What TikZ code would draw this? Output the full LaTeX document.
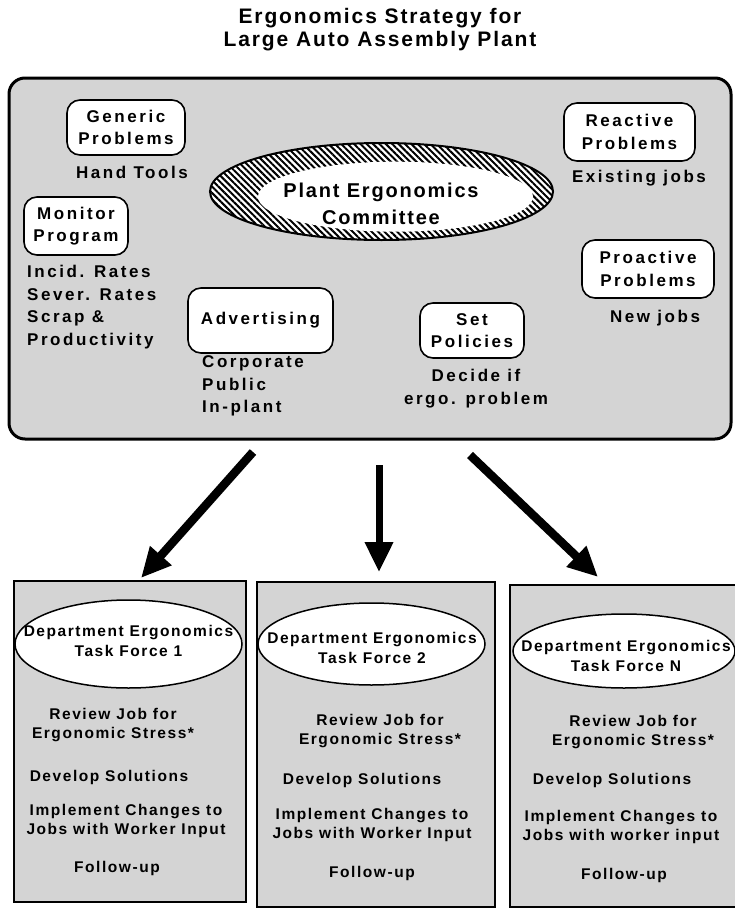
\documentclass[tikz,border=0pt]{standalone}
\usepackage{fontspec}
\setmainfont{Liberation Sans}
\newfontfamily\fbody[LetterSpace=15]{Liberation Sans}
\newfontfamily\fbig[LetterSpace=9]{Liberation Sans}
\newfontfamily\fsmall[LetterSpace=10]{Liberation Sans}
\usetikzlibrary{arrows.meta,patterns.meta}
\definecolor{paper}{gray}{0.83}
\newcommand\bodyfnt{\fbody\bfseries\fontsize{17}{22.7}\selectfont}
\newcommand\bigfnt{\fbig\bfseries\fontsize{21}{23}\selectfont}
\newcommand\comfnt{\fbig\bfseries\fontsize{20}{27}\selectfont}
\newcommand\smallfnt{\fsmall\bfseries\fontsize{15.5}{19.5}\selectfont}
\tikzset{
  lbl/.style={inner sep=0pt, align=center, font=\bodyfnt},
  lbll/.style={inner sep=0pt, align=left, font=\bodyfnt, anchor=west},
  tlbl/.style={inner sep=0pt, align=center, font=\smallfnt},
  rbox/.style={draw, fill=white, rounded corners=13pt, line width=1.6pt, inner sep=0pt, align=center, font=\bodyfnt},
  mainbox/.style={draw, fill=paper, rounded corners=16pt, line width=3pt, inner sep=0pt},
  tfbox/.style={draw, fill=paper, line width=2pt, inner sep=0pt},
  tfell/.style={draw, fill=white, line width=1.5pt},
  bigarrow/.style={line width=8.5pt, -{Triangle[length=30pt,width=27pt]}},
}
\begin{document}
\begin{tikzpicture}[x=1pt,y=-1pt]
\useasboundingbox (0,0) rectangle (734,910);

% title
\node[inner sep=0pt, align=center, font=\bigfnt] (title) at (380,30) {Ergonomics Strategy for\\Large Auto Assembly Plant};

% main plant box
\node[mainbox, minimum width=722pt, minimum height=361pt] (plant) at (370,258.5) {};

% committee ellipse
\path[fill=white] (381.5,191.5) ellipse [x radius=171.5, y radius=48.5];
\path[pattern={Lines[angle=-45,distance=4.5pt,line width=2pt]}] (381.5,191.5) ellipse [x radius=171.5, y radius=48.5];
\draw[line width=2pt] (381.5,191.5) ellipse [x radius=171.5, y radius=48.5];
\fill[white] (395.5,196.7) ellipse [x radius=137.5, y radius=35];
\node[inner sep=0pt, align=center, font=\comfnt] (committee) at (381,203.5) {Plant Ergonomics\\Committee};

% small boxes
\node[rbox, minimum width=118pt, minimum height=55pt] (generic) at (126,127.5) {Generic\\Problems};
\node[lbl] (hand) at (132,172) {Hand Tools};
\node[rbox, minimum width=104pt, minimum height=58pt] (monitor) at (76,226) {Monitor\\Program};
\node[lbll] (rates) at (27,307) {Incid. Rates\\Sever. Rates\\Scrap \&\\Productivity};
\node[rbox, minimum width=145pt, minimum height=65pt] (advert) at (260.5,320.5) {Advertising};
\node[lbll] (corp) at (202,386) {Corporate\\Public\\In-plant};
\node[rbox, minimum width=104pt, minimum height=55pt] (policies) at (472,330.5) {Set\\Policies};
\node[lbl] (decide) at (476,388.5) {Decide if\\ergo. problem};
\node[rbox, minimum width=131pt, minimum height=58pt] (reactive) at (629.5,132) {Reactive\\Problems};
\node[lbl] (existing) at (639,178) {Existing jobs};
\node[rbox, minimum width=132pt, minimum height=58pt] (proactive) at (648,269) {Proactive\\Problems};
\node[lbl] (newjobs) at (655,318) {New jobs};

% task force boxes
\node[tfbox, minimum width=232pt, minimum height=321pt] (tf1) at (130,741) {};
\node[tfbox, minimum width=238pt, minimum height=325pt] (tf2) at (376,744.5) {};
\node[tfbox, minimum width=232pt, minimum height=322pt] (tfN) at (626,746) {};

% arrows
\coordinate (a1s) at (253,452); \coordinate (a1e) at (141,578);
\coordinate (a2s) at (379,465); \coordinate (a2e) at (379,572);
\coordinate (a3s) at (470,455); \coordinate (a3e) at (598,577);
\draw[bigarrow] (a1s) -- (a1e);
\draw[bigarrow, line width=7pt] (a2s) -- (a2e);
\draw[bigarrow] (a3s) -- (a3e);

% task force 1
\draw[tfell] (128.5,644) ellipse [x radius=113.5, y radius=44];
\node[tlbl] (d1) at (128.5,641) {Department Ergonomics\\Task Force 1};
\node[tlbl] (r1) at (113,725) {Review Job for\\Ergonomic Stress*};
\node[tlbl] (s1) at (109,777) {Develop Solutions};
\node[tlbl] (i1) at (126,821) {Implement Changes to\\Jobs with Worker Input};
\node[tlbl] (f1) at (117,868) {Follow-up};

% task force 2
\draw[tfell] (371.5,644) ellipse [x radius=113.5, y radius=41];
\node[tlbl] (d2) at (372,648) {Department Ergonomics\\Task Force 2};
\node[tlbl] (r2) at (380,731) {Review Job for\\Ergonomic Stress*};
\node[tlbl] (s2) at (362,780) {Develop Solutions};
\node[tlbl] (i2) at (372,825) {Implement Changes to\\Jobs with Worker Input};
\node[tlbl] (f2) at (372,873) {Follow-up};

% task force N
\draw[tfell] (624,651) ellipse [x radius=111, y radius=37];
\node[tlbl] (dN) at (626,656) {Department Ergonomics\\Task Force N};
\node[tlbl] (rN) at (633,732) {Review Job for\\Ergonomic Stress*};
\node[tlbl] (sN) at (612,780) {Develop Solutions};
\node[tlbl] (iN) at (621,827) {Implement Changes to\\Jobs with worker input};
\node[tlbl] (fN) at (624,875) {Follow-up};
\end{tikzpicture}
\end{document}
